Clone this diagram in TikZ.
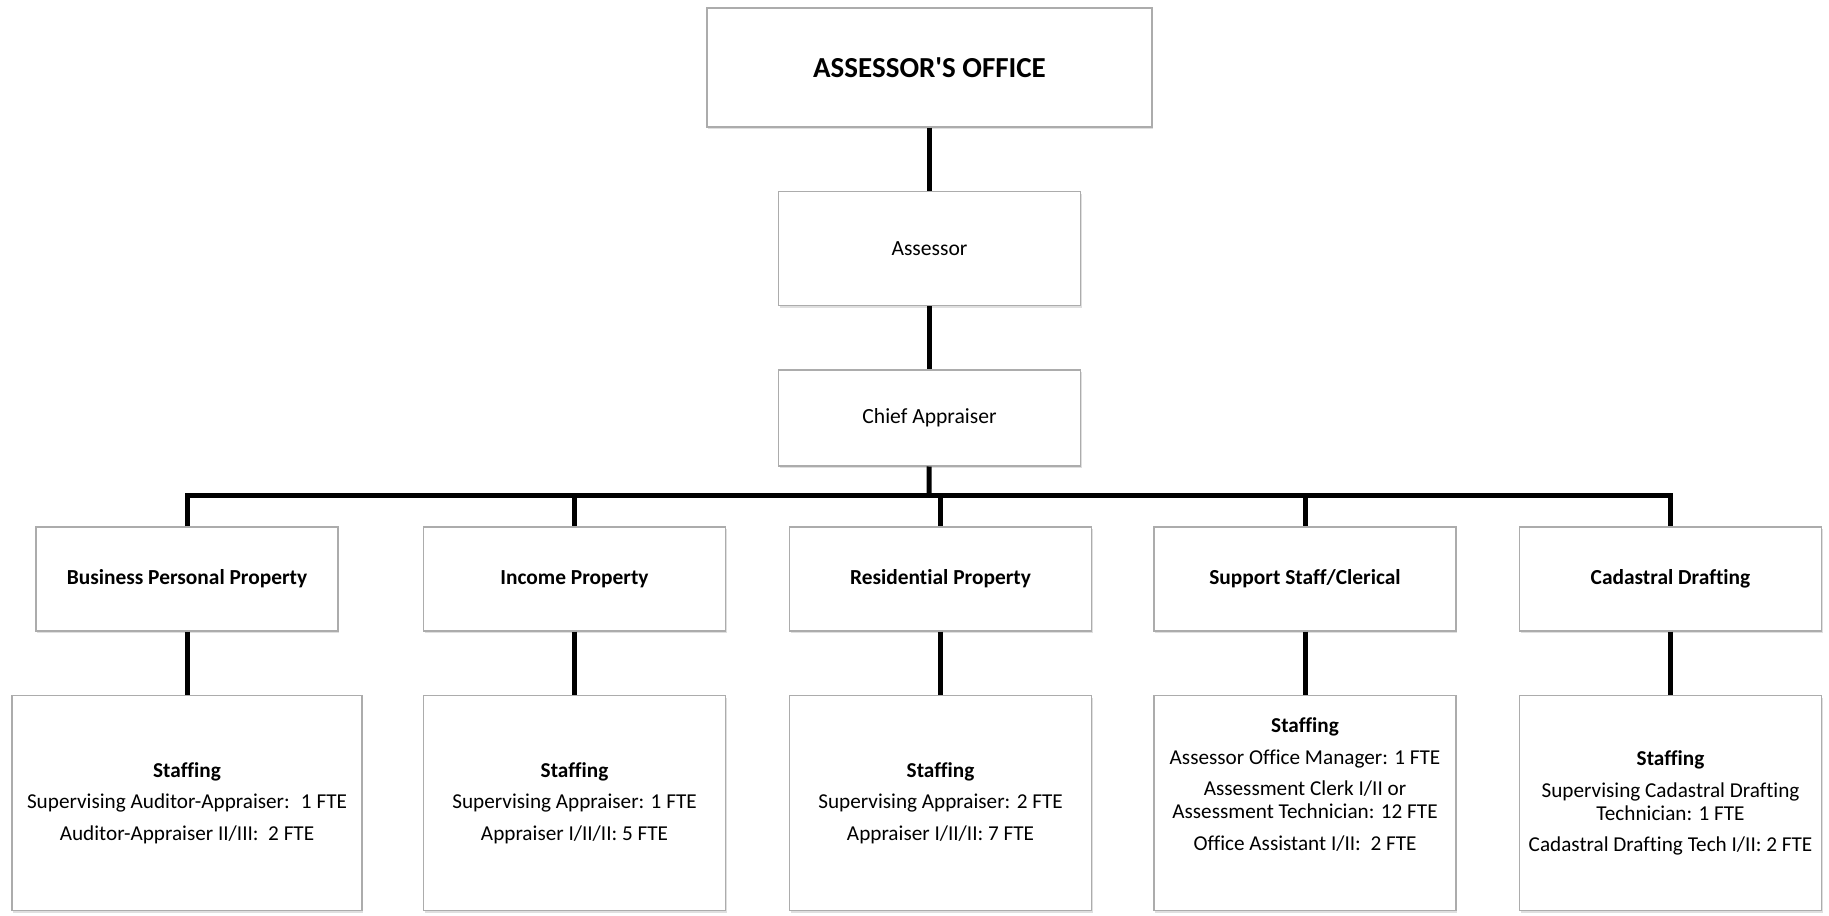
\documentclass[tikz,border=0pt]{standalone}
\usepackage{fontspec}
\setmainfont{Carlito}[Ligatures=NoCommon]
\usetikzlibrary{positioning, shadows}

\begin{document}
\begin{tikzpicture}
[x=0.5pt, y=-0.5pt,
box/.style={rectangle, draw=gray!65, line width=0.7pt, fill=white, align=center, inner sep=1mm,
  drop shadow={shadow xshift=0.6pt, shadow yshift=-1.2pt, opacity=0.25}},
head/.style={box, minimum width=151pt, font=\fontsize{10.8}{12}\selectfont},
dept/.style={box, minimum width=151pt, minimum height=52pt, font=\fontsize{10.7}{12}\selectfont\bfseries},
staff/.style={box, minimum width=151pt, minimum height=107.5pt, font=\fontsize{10.6}{11.5}\selectfont},
link/.style={line width=2.5pt}]

\useasboundingbox (0,0) rectangle (1829,915);

\node[box, minimum width=222.5pt, minimum height=59.5pt, font=\fontsize{14.5}{16}\selectfont\bfseries] (office) at (929.5,67.5) {ASSESSOR\textquotesingle S OFFICE};
\node[head, minimum height=57pt, below=31.5pt of office] (assessor) {Assessor};
\node[head, minimum height=48pt, below=31.5pt of assessor] (chief) {Chief Appraiser};

\node[dept] (bpp) at (187,579) {Business Personal Property};
\node[dept] (income) at (574.5,579) {Income Property};
\node[dept] (resid) at (940.5,579) {Residential Property};
\node[dept] (support) at (1305,579) {Support Staff/Clerical};
\node[dept] (cadastral) at (1670.5,579) {Cadastral Drafting};

\node[staff, minimum width=175pt, below=31.5pt of bpp] (bpp-staff)
  {\textbf{Staffing}\\[4.3pt] Supervising Auditor-Appraiser:~ 1 FTE\\[4.3pt] Auditor-Appraiser II/III:~ 2 FTE};
\node[staff, below=31.5pt of income] (income-staff)
  {\textbf{Staffing}\\[4.3pt] Supervising Appraiser: 1 FTE\\[4.3pt] Appraiser I/II/II: 5 FTE};
\node[staff, below=31.5pt of resid] (resid-staff)
  {\textbf{Staffing}\\[4.3pt] Supervising Appraiser: 2 FTE\\[4.3pt] Appraiser I/II/II: 7 FTE};
\node[staff, below=31.5pt of support] (support-staff)
  {\textbf{Staffing}\\[4.3pt] Assessor Office Manager: 1 FTE\\[4.3pt] Assessment Clerk I/II or\\ Assessment Technician: 12 FTE\\[4.3pt] Office Assistant I/II:~ 2 FTE\\[7.5pt] \mbox{}};
\node[staff, below=31.5pt of cadastral] (cadastral-staff)
  {\textbf{Staffing}\\[4.3pt] Supervising Cadastral Drafting\\ Technician: 1 FTE\\[4.3pt] Cadastral Drafting Tech I/II: 2 FTE};

\coordinate (bus) at (929,495);
\draw[link] (office) -- (assessor);
\draw[link] (assessor) -- (chief);
\draw[link] (chief) -- (bus);
\draw[link] (bpp.north) |- (cadastral.north |- bus) -- (cadastral.north);
\foreach \d in {income, resid, support}
  \draw[link] (bus -| \d.north) -- (\d.north);
\foreach \d in {bpp, income, resid, support, cadastral}
  \draw[link] (\d.south) -- (\d-staff.north);
\end{tikzpicture}
\end{document}
